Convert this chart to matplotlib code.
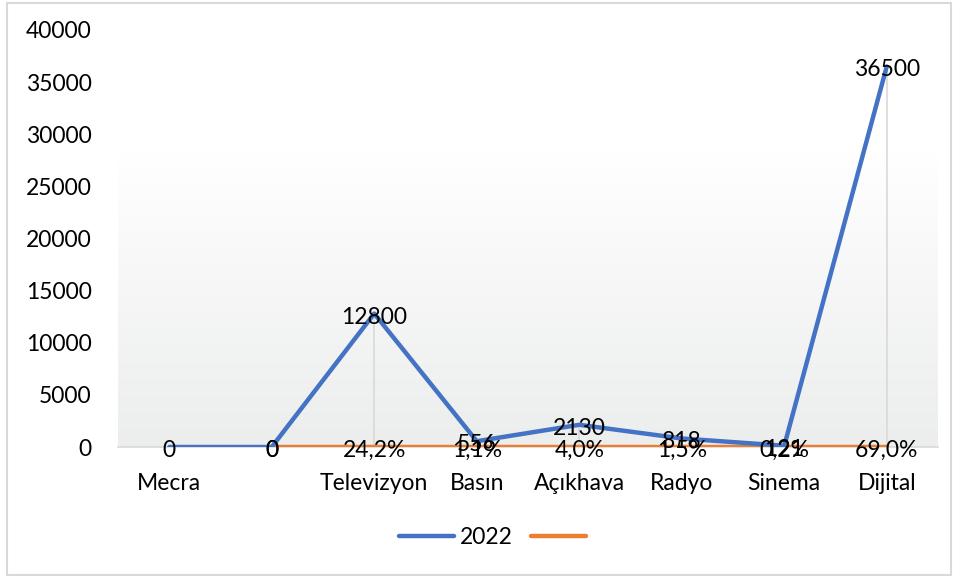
import numpy as np
import matplotlib
matplotlib.use("Agg")
import matplotlib.pyplot as plt
import matplotlib.transforms as mtransforms
from matplotlib.lines import Line2D

categories = ["Mecra", "", "Televizyon", "Basın", "Açıkhava", "Radyo", "Sinema", "Dijital"]
values_2022 = [0, 0, 12800, 556, 2130, 818, 121, 36500]
share = [np.nan, 0, 0.242, 0.011, 0.040, 0.015, 0.002, 0.690]
yticks = [0, 5000, 10000, 15000, 20000, 25000, 30000, 35000, 40000]

plt.rcParams['font.family'] = ['Lato', 'DejaVu Sans']
FS = 16.5
W, H = 956, 579
fig = plt.figure(figsize=(W/100, H/100), dpi=100)
ax = fig.add_axes([118/W, 1-447/H, (938-118)/W, (447-30)/H])

x = np.arange(len(categories))
ax.set_xlim(-0.5, len(categories)-0.5)
ax.set_ylim(0, 40000)

# gradient background (white at top -> light grey at bottom)
t = np.linspace(0, 1, 256).reshape(-1, 1, 1)
top_c = np.array([1.0, 1.0, 1.0])
bot_c = np.array([0.925, 0.929, 0.929])
img = (1-t)*bot_c + t*top_c
ax.imshow(img, extent=[-0.5, len(categories)-0.5, 0, 28500], aspect='auto',
          origin='lower', zorder=0)

# high-low lines
for xi, a, b in zip(x, values_2022, share):
    if not np.isnan(b):
        ax.plot([xi, xi], [min(a, b), max(a, b)], color='#d9d9d9', lw=1.2, zorder=1)

ax.plot(x, values_2022, color='#4472C4', lw=3.2, zorder=3, solid_capstyle='round')
ax.plot(x, share, color='#ED7D31', lw=3.2, zorder=2, solid_capstyle='round')

lab_tr = ax.transData + mtransforms.ScaledTranslation(0, -3.5/100, fig.dpi_scale_trans)
for xi, v in zip(x, values_2022):
    ax.text(xi, v, f"{v}", ha='center', va='center', fontsize=FS, zorder=5,
            clip_on=False, transform=lab_tr)
for xi, v in zip(x, share):
    if np.isnan(v):
        continue
    s = "0" if v == 0 else (f"{v*100:.1f}%".replace('.', ','))
    ax.text(xi, v, s, ha='center', va='center', fontsize=FS, zorder=5,
            clip_on=False, transform=lab_tr)

for sp in ['top', 'right', 'left']:
    ax.spines[sp].set_visible(False)
ax.spines['bottom'].set_color('#d9d9d9')
ax.spines['bottom'].set_linewidth(1.2)
ax.spines['bottom'].set_zorder(1)

ax.set_yticks(yticks)
ax.set_yticklabels([str(t) for t in yticks], fontsize=FS)
ax.tick_params(axis='y', length=0, pad=19)
ax.set_xticks(x)
ax.set_xticklabels(categories, fontsize=FS)
ax.tick_params(axis='x', length=0, pad=19)

handles = [Line2D([], [], color='#4472C4', lw=3.2, solid_capstyle='round'),
           Line2D([], [], color='#ED7D31', lw=3.2, solid_capstyle='round')]
fig.legend(handles, ['2022', ''], loc='center', bbox_to_anchor=(495/W, 1-538/H),
           ncol=2, frameon=False, fontsize=FS, handlelength=2.4, handletextpad=0.25,
           columnspacing=0.8)

fig.add_artist(plt.Rectangle((7/W, 1-575/H), 944/W, 572/H, transform=fig.transFigure,
                             fill=False, edgecolor='#d9d9d9', lw=1.5))

fig.savefig('out.png', dpi=100)
